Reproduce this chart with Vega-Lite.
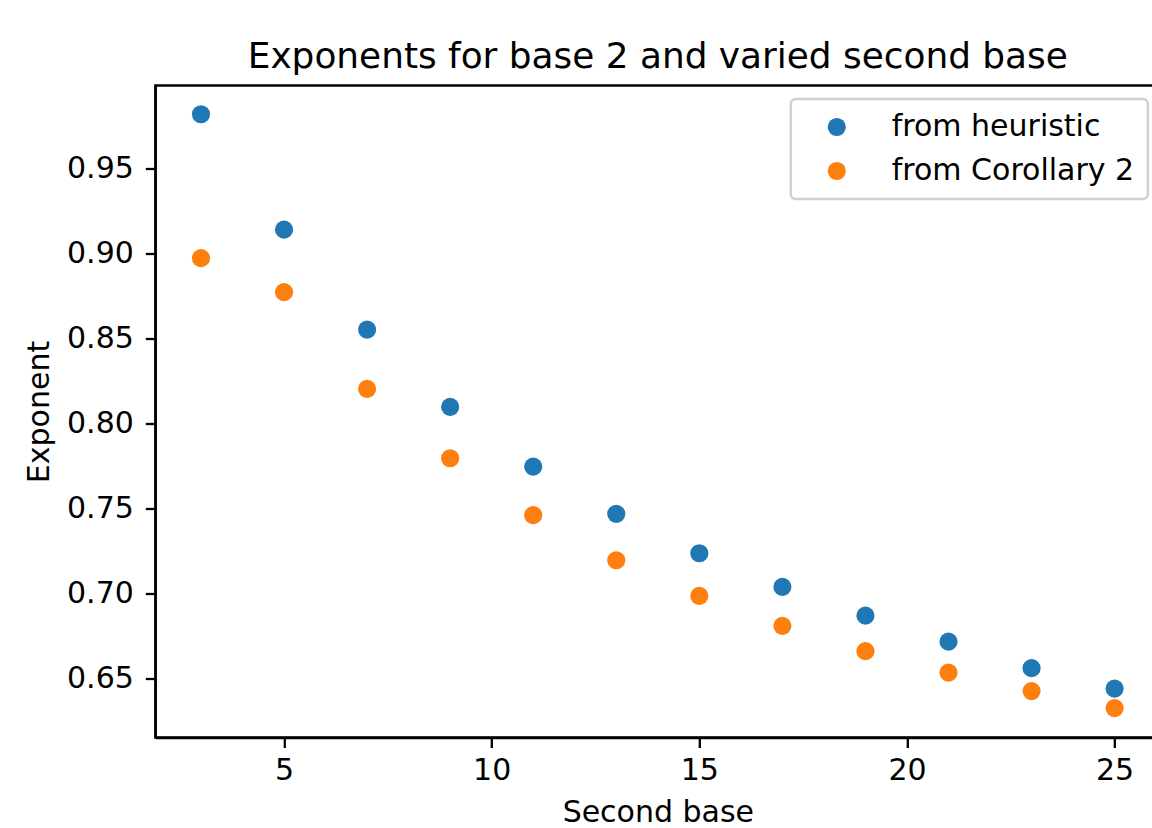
{
  "$schema": "https://vega.github.io/schema/vega-lite/v6.json",
  "autosize": "none",
  "padding": {"left": 155.3, "top": 85.5, "right": 0, "bottom": 90.5},
  "width": 1005,
  "height": 652,
  "background": "white",
  "title": {
    "text": "Exponents for base 2 and varied second base",
    "font": "DejaVu Sans",
    "fontSize": 35.9,
    "fontWeight": "normal",
    "color": "black",
    "anchor": "middle",
    "baseline": "alphabetic",
    "offset": -18.5
  },
  "config": {
    "view": {"stroke": "black", "strokeWidth": 2.3},
    "axis": {
      "grid": false,
      "domainColor": "black",
      "domainWidth": 2.3,
      "tickColor": "black",
      "tickWidth": 2.3,
      "tickSize": 10,
      "labelFont": "DejaVu Sans",
      "labelFontSize": 30,
      "labelColor": "black",
      "titleFont": "DejaVu Sans",
      "titleFontSize": 30,
      "titleFontWeight": "normal",
      "titleColor": "black"
    },
    "legend": {
      "strokeColor": "#d0d0d0",
      "strokeWidth": 2.5,
      "cornerRadius": 5,
      "fillColor": "white",
      "padding": 13
    }
  },
  "data": {
    "values": [
      {"base": 3, "exponent": 0.9818, "series": "from heuristic"},
      {"base": 5, "exponent": 0.9139, "series": "from heuristic"},
      {"base": 7, "exponent": 0.8551, "series": "from heuristic"},
      {"base": 9, "exponent": 0.8096, "series": "from heuristic"},
      {"base": 11, "exponent": 0.7745, "series": "from heuristic"},
      {"base": 13, "exponent": 0.7467, "series": "from heuristic"},
      {"base": 15, "exponent": 0.7235, "series": "from heuristic"},
      {"base": 17, "exponent": 0.7037, "series": "from heuristic"},
      {"base": 19, "exponent": 0.6868, "series": "from heuristic"},
      {"base": 21, "exponent": 0.6715, "series": "from heuristic"},
      {"base": 23, "exponent": 0.6559, "series": "from heuristic"},
      {"base": 25, "exponent": 0.6439, "series": "from heuristic"},
      {"base": 3, "exponent": 0.8971, "series": "from Corollary 2"},
      {"base": 5, "exponent": 0.8771, "series": "from Corollary 2"},
      {"base": 7, "exponent": 0.8202, "series": "from Corollary 2"},
      {"base": 9, "exponent": 0.7794, "series": "from Corollary 2"},
      {"base": 11, "exponent": 0.7459, "series": "from Corollary 2"},
      {"base": 13, "exponent": 0.7194, "series": "from Corollary 2"},
      {"base": 15, "exponent": 0.6984, "series": "from Corollary 2"},
      {"base": 17, "exponent": 0.6808, "series": "from Corollary 2"},
      {"base": 19, "exponent": 0.6659, "series": "from Corollary 2"},
      {"base": 21, "exponent": 0.6533, "series": "from Corollary 2"},
      {"base": 23, "exponent": 0.6424, "series": "from Corollary 2"},
      {"base": 25, "exponent": 0.6324, "series": "from Corollary 2"}
    ]
  },
  "mark": {"type": "point", "filled": true, "opacity": 1, "size": 330},
  "encoding": {
    "x": {
      "field": "base",
      "type": "quantitative",
      "title": "Second base",
      "scale": {"domain": [1.9, 26.1], "nice": false, "zero": false},
      "axis": {"values": [5, 10, 15, 20, 25], "labelPadding": 8, "titlePadding": 12}
    },
    "y": {
      "field": "exponent",
      "type": "quantitative",
      "title": "Exponent",
      "scale": {"domain": [0.6151, 0.9987], "nice": false, "zero": false},
      "axis": {"values": [0.65, 0.7, 0.75, 0.8, 0.85, 0.9, 0.95], "format": ".2f", "labelPadding": 12, "titlePadding": 12}
    },
    "color": {
      "field": "series",
      "type": "nominal",
      "sort": null,
      "scale": {"domain": ["from heuristic", "from Corollary 2"], "range": ["#1f77b4", "#ff7f0e"]},
      "legend": {
        "title": null,
        "orient": "none",
        "legendX": 635.5,
        "legendY": 13.5,
        "rowPadding": 14,
        "symbolType": "circle",
        "symbolSize": 330,
        "symbolOffset": 18,
        "symbolStrokeWidth": 0,
        "labelFont": "DejaVu Sans",
        "labelFontSize": 30,
        "labelColor": "black",
        "labelOffset": 40,
        "labelLimit": 400
      }
    }
  }
}
